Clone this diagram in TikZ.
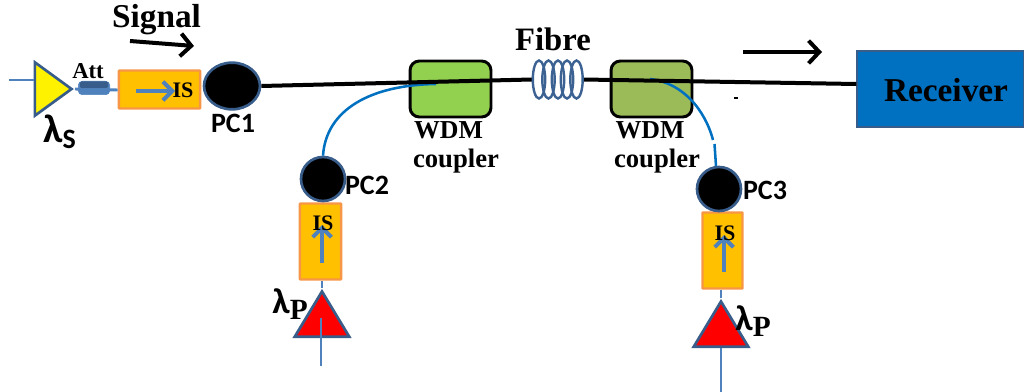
\documentclass[tikz,border=0pt]{standalone}
\usepackage{fontspec}
\setmainfont{Liberation Serif}
\newfontfamily\calib{Carlito}
\usetikzlibrary{shapes.geometric,arrows.meta,calc}
\definecolor{isofill}{HTML}{FFC000}
\definecolor{isoedge}{HTML}{F79646}
\definecolor{steel}{HTML}{385D8A}
\definecolor{midblue}{HTML}{4F81BD}
\definecolor{fibreblue}{HTML}{0070C0}
\definecolor{greenA}{HTML}{92D050}
\definecolor{greenB}{HTML}{9BBB59}
\tikzset{
  isobox/.style={draw=isoedge,fill=isofill,line width=1.8pt,inner sep=0pt,rounded corners=0.5pt},
  pcball/.style={ellipse,draw=steel,fill=black,line width=2pt,inner sep=0pt},
  wdm/.style={draw=black,line width=2.2pt,rounded corners=7pt,inner sep=0pt,minimum width=60.7pt,minimum height=42pt},
  tri/.style={isosceles triangle,isosceles triangle stretches,draw=steel,line width=2pt,inner sep=0pt},
  thinline/.style={draw=midblue,line width=0.8pt},
  isoarrow/.style={draw=midblue,line width=3pt,-{Straight Barb[length=7pt,width=14pt,line width=3pt]}},
  sigarrow/.style={draw=black,line width=3pt,-{Straight Barb[length=8pt,width=17pt,line width=3pt]}},
  mainline/.style={draw=black,line width=3pt},
  pumpline/.style={draw=fibreblue,line width=1.9pt},
  serifb/.style={font=\bfseries\fontsize{#1}{#1}\selectfont,inner sep=0pt},
  calibb/.style={font=\calib\bfseries\fontsize{#1}{#1}\selectfont,inner sep=0pt}
}
\begin{document}
\begin{tikzpicture}[x=0.75pt,y=-0.75pt]
\useasboundingbox (0,0) rectangle (1024,392);

% input / pump feed lines
\coordinate (inS) at (9,80);
\coordinate (inP2) at (321,366);
\coordinate (inP3) at (721,392);

% boxes
\node[isobox,minimum width=61pt,minimum height=28.5pt] (is1) at (159.5,89.5) {};
\node[isobox,minimum width=31pt,minimum height=57pt] (is2) at (320.5,241.5) {};
\node[isobox,minimum width=30pt,minimum height=57pt] (is3) at (722.5,250.5) {};

\node[wdm,fill=greenA] (wdm1) at (450.5,89) {};
\node[wdm,fill=greenB] (wdm2) at (651.5,89) {};

\node[draw=steel,fill=fibreblue,line width=1.3pt,minimum width=125pt,minimum height=57pt,inner sep=0pt] (rx) at (940.5,89) {};
\node[serifb=25pt] (rxt) at (946,90) {Receiver};

% triangles
\node[tri,fill=yellow,minimum width=40pt,minimum height=27.5pt,anchor=apex] (ampS) at (75,89) {};
\node[tri,fill=red,shape border rotate=90,minimum width=41pt,minimum height=34pt,anchor=apex] (ampP2) at (322,288) {};
\node[tri,fill=red,shape border rotate=90,minimum width=41pt,minimum height=34pt,anchor=apex] (ampP3) at (721,298) {};

% thin feed lines
\draw[thinline] (inS) -- (inS -| ampS.lower side);
\draw[thinline] (inP2) -- (321,318);
\draw[thinline] (inP3) -- (inP3 |- ampP3.lower side);
\draw[thinline] (ampP2.apex) -- (ampP2.apex |- is2.south);
\draw[thinline] (ampP3.apex) -- (ampP3.apex |- is3.south);

% attenuator
\draw[draw=midblue,line width=2.2pt] (ampS.apex) -- (is1.west |- 0,90);
\node[draw=midblue,fill=midblue,line width=0.5pt,rounded corners=3pt,minimum width=23.5pt,minimum height=10pt,inner sep=0pt] (att) at (94,88) {};
\fill[steel,rounded corners=1pt] (80,81.5) rectangle (108,88);

% fibre coil
\node[minimum width=38pt,minimum height=29pt,inner sep=0pt] (coil) at (557.5,79.5) {};

% polarisation controllers
\node[pcball,minimum width=42pt,minimum height=35pt] (pc1) at (232,86) {};
\node[circle,draw=steel,fill=black,line width=2pt,minimum size=33pt,inner sep=0pt] (pc2) at (323,179) {};
\node[circle,draw=steel,fill=black,line width=2pt,minimum size=33pt,inner sep=0pt] (pc3) at (719,189) {};

% pump lines
\coordinate (join2) at (650,79);
\draw[pumpline] (pc2.north) .. controls (326,110) and (370,85) .. (436,84);
\draw[pumpline] (join2) .. controls (690,84) and (708,120) .. (713,140);
\draw[pumpline] (714.5,144) -- (716,166);

% main black line
\draw[mainline] (pc1.east) -- (coil.west);
\draw[mainline] (coil.east) -- ($(rx.west)+(0,-5)$);

% fibre coil loops
\foreach \dx in {-18.5,-9,0.5,9.5,19}
  \draw[draw=steel!85!midblue,line width=1.8pt] ($(coil.center)+(\dx,0)$) ellipse (6.2 and 19);

% arrows
\draw[isoarrow] (136,91) -- (175,91);
\draw[isoarrow] (322,263) -- (322,225);
\draw[isoarrow] (724,272) -- (724,235);
\coordinate (sigA) at (130,41);
\coordinate (sigB) at (194,46);
\coordinate (outA) at (743,52);
\coordinate (outB) at (822,52);
\draw[sigarrow] (sigA) -- (sigB);
\draw[sigarrow] (outA) -- (outB);
\draw[black,line width=0.8pt] (734,98) -- (738,98);

% labels
\node[serifb=25pt] (sig) at (156.5,20) {Signal};
\node[serifb=24.5pt] (fib) at (553,39) {Fibre};
\node[serifb=17pt] (attt) at (88,71) {Att};
\node[serifb=16.6pt] (is1t) at (183,90) {IS};
\node[serifb=16.6pt] (is2t) at (323,223) {IS};
\node[serifb=16.6pt] (is3t) at (725,233) {IS};
\node[serifb=19.4pt] (w1a) at (448.5,130) {WDM};
\node[serifb=20pt] (w1b) at (456,161) {coupler};
\node[serifb=19.4pt] (w2a) at (650,130) {WDM};
\node[serifb=20pt] (w2b) at (657,161) {coupler};
\node[calibb=21pt] (pc1t) at (233,123) {PC1};
\node[calibb=21pt] (pc2t) at (367,185) {PC2};
\node[calibb=21pt] (pc3t) at (765,190) {PC3};
\node[calibb=30pt,anchor=base west] (lamS) at (43,143) {\symbol{"03BB}\raisebox{-4pt}{\fontsize{21}{21}\selectfont S}};
\node[serifb=27pt,anchor=base west] (lamP2) at (272,313) {{\calib\symbol{"03BB}}\raisebox{-5pt}{\fontsize{22}{22}\selectfont P}};
\node[serifb=27pt,anchor=base west] (lamP3) at (735,330) {{\calib\symbol{"03BB}}\raisebox{-5pt}{\fontsize{22}{22}\selectfont P}};
\end{tikzpicture}
\end{document}
